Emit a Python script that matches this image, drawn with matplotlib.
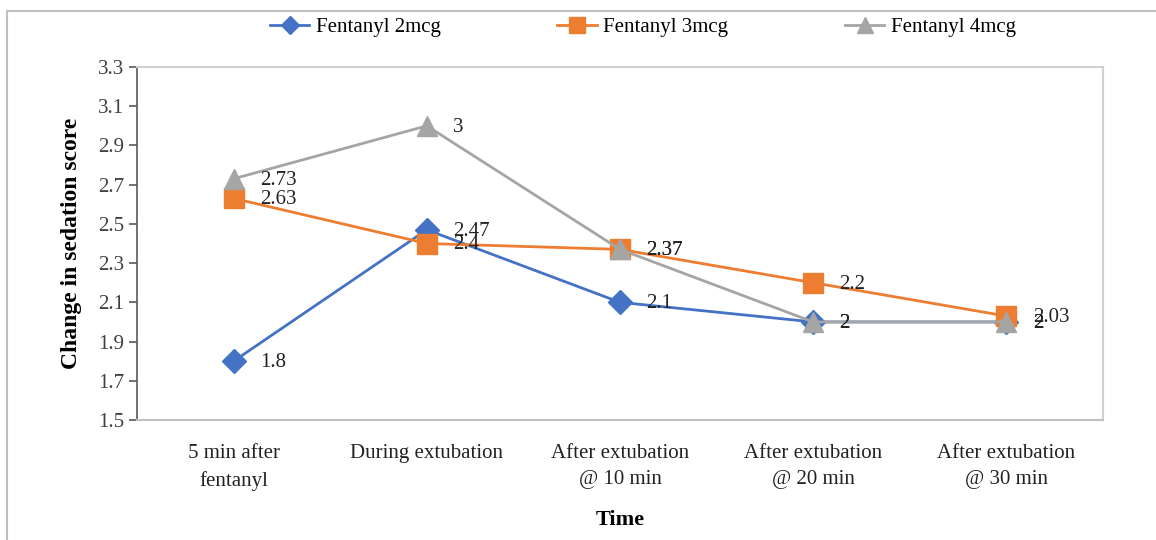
import matplotlib.pyplot as plt
from matplotlib.patches import Rectangle

plt.rcParams['font.family'] = ['Liberation Serif', 'DejaVu Serif']

categorias = ["5 min after\nfentanyl", "During extubation", "After extubation\n@ 10 min",
              "After extubation\n@ 20 min", "After extubation\n@ 30 min"]
fent_2mcg = [1.8, 2.47, 2.1, 2, 2]
fent_3mcg = [2.63, 2.4, 2.37, 2.2, 2.03]
fent_4mcg = [2.73, 3, 2.37, 2, 2]
etiquetas_y = [1.5, 1.7, 1.9, 2.1, 2.3, 2.5, 2.7, 2.9, 3.1, 3.3]

series = [
    ("Fentanyl 2mcg", fent_2mcg, "#4472C4", "D", 12),
    ("Fentanyl 3mcg", fent_3mcg, "#ED7D31", "s", 15),
    ("Fentanyl 4mcg", fent_4mcg, "#A5A5A5", "^", 15),
]

fig = plt.figure(figsize=(11.56, 5.4), dpi=100)
ax = fig.add_axes([137 / 1156, 1 - 420 / 540, 966 / 1156, 353 / 540])

x = list(range(len(categorias)))
for nombre, valores, color, marca, tam in series:
    ax.plot(x, valores, color=color, lw=2, marker=marca, markersize=tam, label=nombre)
    for xi, v in zip(x, valores):
        ax.annotate(f"{v:g}", (xi, v), xytext=(19, -1), textcoords="offset points",
                    va="center", ha="left", fontsize=15, color="#222222")

ax.set_xlim(-0.5, len(categorias) - 0.5)
ax.set_ylim(1.5, 3.3)
ax.set_yticks(etiquetas_y)
ax.set_yticklabels([f"{v:.1f}" for v in etiquetas_y], fontsize=15, color="#404040")
ax.set_xticks(x)
ax.set_xticklabels(categorias, fontsize=15, linespacing=1.55, color="#222222")
ax.tick_params(axis="x", length=0, pad=17)
ax.tick_params(axis="y", length=6, width=1.2, color="#595959", pad=3)

for lado in ["top", "right", "bottom"]:
    ax.spines[lado].set_color("#D0D0D0")
    ax.spines[lado].set_linewidth(1.5)
ax.spines["bottom"].set_color("#BFBFBF")
ax.spines["left"].set_color("#595959")
ax.spines["left"].set_linewidth(1.2)

ax.set_ylabel("Change in sedation score", fontsize=17, fontweight="bold", labelpad=12)
ax.set_xlabel("Time", fontsize=16, fontweight="bold", labelpad=14)

fig.legend(loc="center", bbox_to_anchor=(0.556, 0.95), ncol=3, frameon=False,
           fontsize=15, handlelength=1.9, columnspacing=5.6, handletextpad=0.3,
           markerscale=0.75)

fig.patches.append(Rectangle((7 / 1156, -0.1), 1.2, 1.1 - 11 / 540, transform=fig.transFigure,
                             fill=False, edgecolor="#BFBFBF", lw=1.5))

fig.savefig("out.png", dpi=100)
